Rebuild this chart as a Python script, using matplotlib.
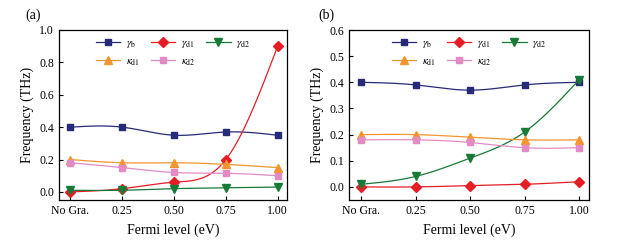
import numpy as np
import matplotlib
matplotlib.use("Agg")
import matplotlib.pyplot as plt

plt.rcParams['font.family'] = ['Liberation Serif', 'DejaVu Serif']
plt.rcParams['mathtext.fontset'] = 'stix'

x_labels = ["No Gra.", "0.25", "0.50", "0.75", "1.00"]
series_names = [r"$\gamma_{\rm b}$", r"$\gamma_{\rm d1}$", r"$\gamma_{\rm d2}$",
                r"$\kappa_{\rm d1}$", r"$\kappa_{\rm d2}$"]

# Panel (a)
a_gamma_b = [0.40, 0.40, 0.35, 0.37, 0.35]
a_gamma_d1 = [0.00, 0.02, 0.06, 0.20, 0.90]
a_gamma_d2 = [0.01, 0.01, 0.02, 0.025, 0.03]
a_kappa_d1 = [0.20, 0.18, 0.18, 0.17, 0.15]
a_kappa_d2 = [0.18, 0.15, 0.12, 0.115, 0.10]

# Panel (b)
b_gamma_b = [0.40, 0.39, 0.37, 0.39, 0.40]
b_gamma_d1 = [0.00, 0.00, 0.005, 0.01, 0.02]
b_gamma_d2 = [0.01, 0.04, 0.11, 0.21, 0.41]
b_kappa_d1 = [0.20, 0.20, 0.19, 0.18, 0.18]
b_kappa_d2 = [0.18, 0.18, 0.17, 0.15, 0.15]

colors = ["#262a78", "#e51e25", "#177a37", "#f4952e", "#e48bc6"]
markers = ["s", "D", "v", "^", "s"]
msizes = [4.8, 4.8, 5.8, 5.8, 4.8]


def natural_spline(xs, ys, n=200):
    xs = np.asarray(xs, float)
    ys = np.asarray(ys, float)
    m = len(xs)
    h = np.diff(xs)
    A = np.zeros((m, m))
    r = np.zeros(m)
    A[0, 0] = 1
    A[-1, -1] = 1
    for i in range(1, m - 1):
        A[i, i - 1] = h[i - 1]
        A[i, i] = 2 * (h[i - 1] + h[i])
        A[i, i + 1] = h[i]
        r[i] = 6 * ((ys[i + 1] - ys[i]) / h[i] - (ys[i] - ys[i - 1]) / h[i - 1])
    M = np.linalg.solve(A, r)
    xx = np.linspace(xs[0], xs[-1], n)
    yy = np.empty_like(xx)
    for k, xv in enumerate(xx):
        i = min(np.searchsorted(xs, xv, side='right') - 1, m - 2)
        t1 = xs[i + 1] - xv
        t0 = xv - xs[i]
        yy[k] = (M[i] * t1 ** 3 / (6 * h[i]) + M[i + 1] * t0 ** 3 / (6 * h[i])
                 + (ys[i] / h[i] - M[i] * h[i] / 6) * t1
                 + (ys[i + 1] / h[i] - M[i + 1] * h[i] / 6) * t0)
    return xx, yy


fig = plt.figure(figsize=(6.36, 2.40), dpi=100)
W, H = 636, 240
ax_a = fig.add_axes([59 / W, 1 - 200 / H, (287 - 59) / W, (200 - 30) / H])
ax_b = fig.add_axes([349 / W, 1 - 200 / H, (589 - 349) / W, (200 - 30) / H])

xpos = np.arange(len(x_labels))

panels = [
    (ax_a, [a_gamma_b, a_gamma_d1, a_gamma_d2, a_kappa_d1, a_kappa_d2],
     (-0.05, 1.0), np.arange(0, 1.01, 0.2), "(a)", 25 / W),
    (ax_b, [b_gamma_b, b_gamma_d1, b_gamma_d2, b_kappa_d1, b_kappa_d2],
     (-0.05, 0.6), np.arange(0, 0.61, 0.1), "(b)", 318 / W),
]

for ax, data, ylim, yticks, tag, tx in panels:
    handles = []
    for vals, c, mk, ms, name in zip(data, colors, markers, msizes, series_names):
        xx, yy = natural_spline(xpos, vals)
        ax.plot(xx, yy, color=c, lw=0.9)
        ax.plot(xpos, vals, linestyle='none', marker=mk, color=c, ms=ms)
        h, = ax.plot([], [], color=c, lw=0.9, marker=mk, ms=ms, label=name)
        handles.append(h)
    # legend filled row-wise: row 1 = gammas, row 2 = kappas
    order = [0, 3, 1, 4, 2]
    ax.set_xlim(-0.22, 4.18)
    ax.set_ylim(*ylim)
    ax.set_xticks(xpos)
    ax.set_xticklabels(x_labels)
    ax.set_yticks(yticks)
    ax.set_yticklabels([f"{v:.1f}" for v in yticks])
    ax.tick_params(direction='in', length=3, width=0.8, labelsize=8.5,
                   top=False, right=False)
    for s in ax.spines.values():
        s.set_linewidth(0.9)
    ax.set_xlabel("Fermi level (eV)", fontsize=10, labelpad=5)
    ax.set_ylabel("Frequency (THz)", fontsize=10, labelpad=4)
    ax.legend(handles=[handles[i] for i in order], ncol=3, loc='upper center',
              frameon=False, fontsize=8, handlelength=2.2, columnspacing=1.0,
              labelspacing=0.55, borderaxespad=0.35, handletextpad=0.5,
              bbox_to_anchor=(0.5, 1.0))
    fig.text(tx, 1 - 15 / H, tag, fontsize=10, va='center', ha='left')

fig.savefig("out.png", dpi=100)
